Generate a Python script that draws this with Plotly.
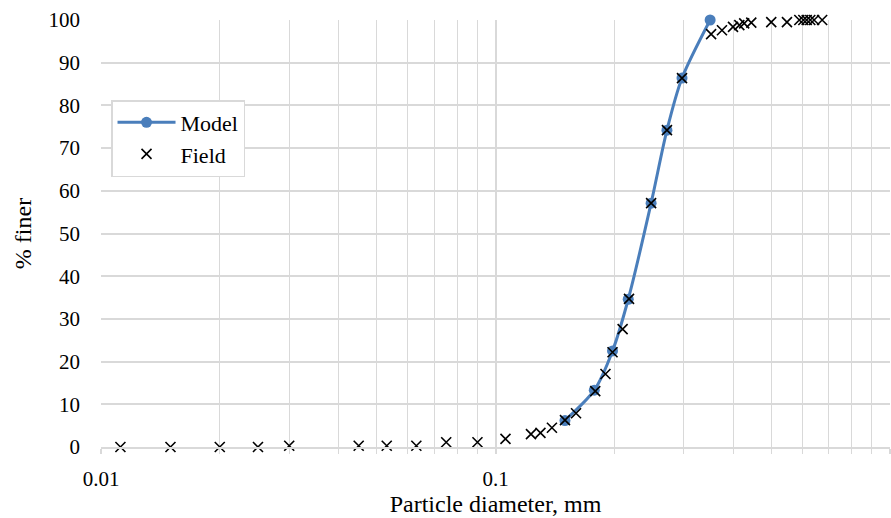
import plotly.graph_objects as go

# Model (blue line with circle markers)
model_d = [0.150, 0.178, 0.198, 0.217, 0.248, 0.272, 0.297, 0.350]
model_p = [6.2, 13.3, 22.5, 34.6, 57.1, 74.2, 86.4, 100.0]

# Field (black x markers)
field_d = [0.0112, 0.0150, 0.0200, 0.0250, 0.0300, 0.0450, 0.0530, 0.0630, 0.0750,
           0.0900, 0.1060, 0.1230, 0.1300, 0.1390, 0.1500, 0.1600, 0.1790, 0.1900,
           0.1980, 0.2100, 0.2180, 0.2480, 0.2720, 0.2970, 0.3520, 0.3750, 0.4000,
           0.4150, 0.4270, 0.4450, 0.5000, 0.5480, 0.5890, 0.6030, 0.6150, 0.6280,
           0.6420, 0.6730]
field_p = [0.0, 0.0, 0.0, 0.0, 0.3, 0.3, 0.3, 0.3, 1.1,
           1.1, 1.9, 3.0, 3.3, 4.5, 6.3, 7.9, 13.1, 17.1,
           22.2, 27.6, 34.7, 57.1, 74.2, 86.4, 96.7, 97.6, 98.4,
           98.8, 99.2, 99.4, 99.5, 99.5, 100.0, 100.0, 100.0, 100.0,
           100.0, 100.0]

x_tickvals = [0.01, 0.1, 1]
x_ticktext = ["0.01", "0.1", "1"]
x_minor = [0.02, 0.03, 0.04, 0.05, 0.06, 0.07, 0.08, 0.09,
           0.2, 0.3, 0.4, 0.5, 0.6, 0.7, 0.8, 0.9]
y_tickvals = list(range(0, 101, 10))

FONT = "Liberation Serif"
BLUE = "#4a7ebb"
GRID = "#d9d9d9"

fig = go.Figure()
fig.add_trace(go.Scatter(
    x=model_d, y=model_p, name="Model", mode="lines+markers",
    line=dict(color=BLUE, width=3, shape="spline", smoothing=0.8),
    marker=dict(symbol="circle", size=11, color=BLUE),
    cliponaxis=False,
))
fig.add_trace(go.Scatter(
    x=field_d, y=field_p, name="Field", mode="markers",
    marker=dict(symbol="x-thin", size=10, color="black",
                line=dict(width=1.6, color="black")),
    cliponaxis=False,
))

fig.update_layout(
    width=891, height=518,
    margin=dict(l=101, r=1, t=20, b=71),
    paper_bgcolor="white", plot_bgcolor="white",
    font=dict(family=FONT, size=21, color="black"),
    showlegend=True,
    legend=dict(x=0.0127, y=0.8126, xanchor="left", yanchor="top",
                bgcolor="white", bordercolor=GRID, borderwidth=1.5,
                font=dict(family=FONT, size=22, color="black"),
                itemwidth=58, tracegroupgap=2),
)
fig.update_xaxes(
    type="log", range=[-2, 0],
    tickmode="array", tickvals=x_tickvals, ticktext=x_ticktext,
    showgrid=True, gridcolor=GRID, gridwidth=1.5,
    ticks="outside", ticklen=5, tickcolor=GRID, tickwidth=1.5,
    ticklabelstandoff=7,
    showline=True, linecolor=GRID, linewidth=1.5,
    minor=dict(tickmode="array", tickvals=x_minor, showgrid=True,
               gridcolor=GRID, gridwidth=1, ticks="outside", ticklen=5,
               tickcolor=GRID, tickwidth=1),
    tickfont=dict(family=FONT, size=21, color="black"),
    title=dict(text="Particle diameter, mm", standoff=3,
               font=dict(family=FONT, size=24, color="black")),
    zeroline=False,
)
fig.update_yaxes(
    range=[0, 100], tickmode="array", tickvals=y_tickvals,
    showgrid=True, gridcolor=GRID, gridwidth=1.5,
    ticks="", showline=False, zeroline=False,
    tickfont=dict(family=FONT, size=21, color="black"),
    ticklabelstandoff=20,
    title=dict(text="% finer", standoff=10,
               font=dict(family=FONT, size=24, color="black")),
)

fig.write_html("out.html")
